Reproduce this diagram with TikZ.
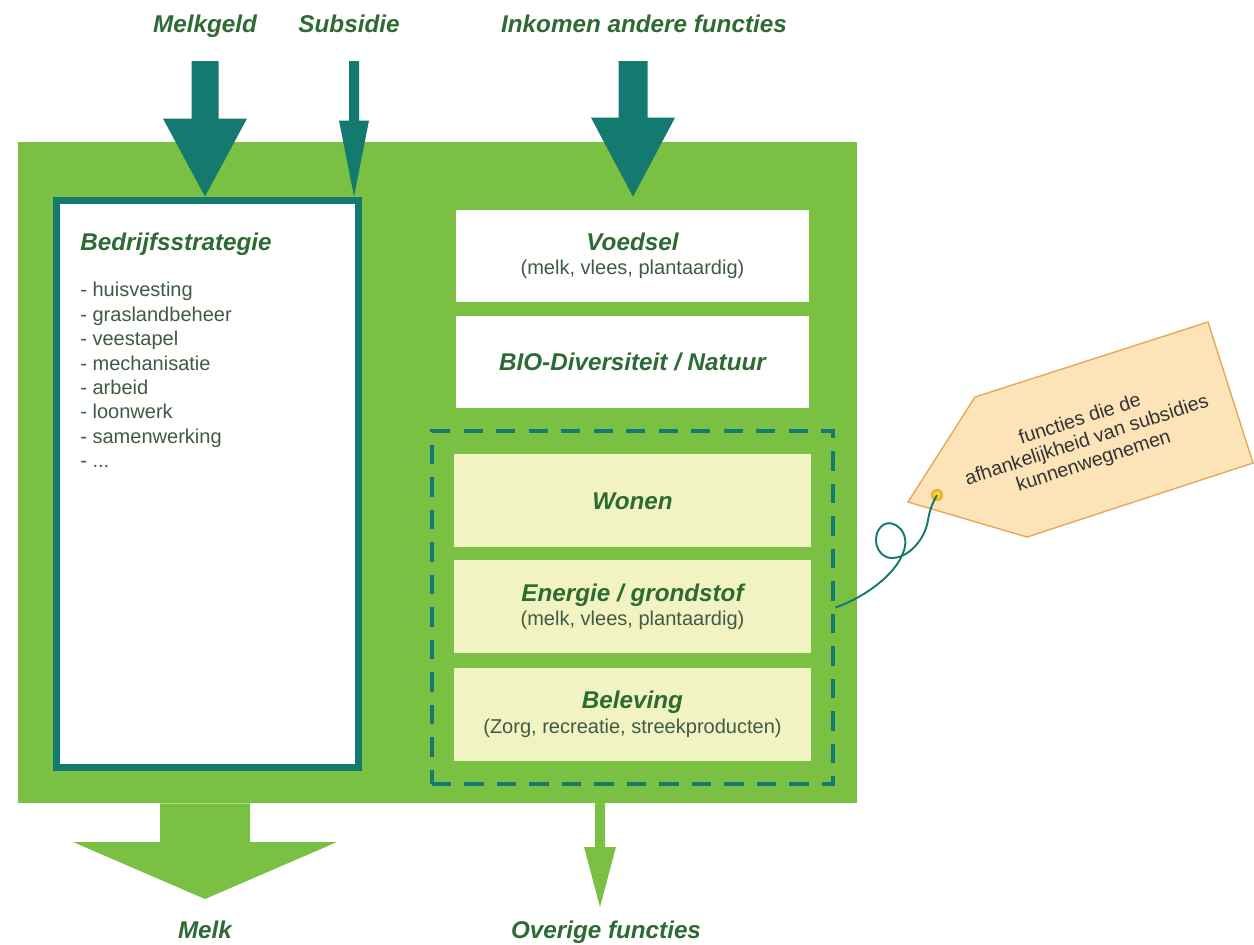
\documentclass[tikz,border=0pt]{standalone}
\usepackage{fontspec}
\setmainfont{Liberation Sans}
\usetikzlibrary{positioning,fit,calc}
\definecolor{farmgreen}{HTML}{7AC143}
\definecolor{flowteal}{HTML}{14796E}
\definecolor{textgreen}{HTML}{2D6A34}
\definecolor{bodygrey}{HTML}{3E5B43}
\definecolor{functieyellow}{HTML}{F2F3C3}
\definecolor{tagfill}{HTML}{FDE4B8}
\definecolor{tagline}{HTML}{E8A75C}
\definecolor{holeorange}{HTML}{F2B13E}
\newcommand*{\kop}{\fontsize{13.8}{16}\selectfont\bfseries\itshape\color{textgreen}}
\newcommand*{\onder}{\fontsize{11.4}{13.9}\selectfont\color{bodygrey}}
% #1 colour, #2 from, #3 tip, #4 half shaft, #5 half head, #6 head length
\newcommand*{\blokpijl}[6]{%
  \fill[#1] ($(#2)+(-#4,0)$) -- ($(#2)+(#4,0)$) -- ($(#3)+(#4,-#6)$) -- ($(#3)+(#5,-#6)$)
    -- (#3) -- ($(#3)+(-#5,-#6)$) -- ($(#3)+(-#4,-#6)$) -- cycle;}

\begin{document}
\begin{tikzpicture}[x=0.02cm, y=-0.02cm,
    farm_block/.style ={rectangle, fill=farmgreen, inner sep=0,
      minimum width=16.78cm, minimum height=13.22cm},
    block_strat/.style ={rectangle, draw=flowteal, line width=4pt, fill=white,
      minimum width=6.06cm, minimum height=11.36cm},
    block_white/.style ={rectangle, fill=white, inner sep=0, align=center,
      font=\onder, minimum width=7.06cm, minimum height=1.84cm},
    block_yellow/.style ={rectangle, fill=functieyellow, inner sep=0, align=center,
      font=\onder, minimum width=7.14cm, minimum height=1.86cm},
    block_dashed/.style ={rectangle, draw=flowteal, line width=2.3pt,
      dash pattern=on 11pt off 7.5pt, inner xsep=0.44cm, inner ysep=0.46cm},
    label_top/.style ={font=\kop, inner sep=0, anchor=base},
    string/.style ={draw=flowteal, line width=1.1pt}]
    \useasboundingbox (0,0) rectangle (1254,944);
    % farm
    \node [farm_block] (farm) at (437.5,472.5) {};
    % left column
    \node [block_strat] (strat) at (207.5,484) {};
    \node [label_top, anchor=base west] (strat_title) at (80,250) {Bedrijfsstrategie};
    \node [anchor=north west, inner sep=0, align=left, font=\onder] (strat_list) at (80,282) {%
      - huisvesting\\
      - graslandbeheer\\
      - veestapel\\
      - mechanisatie\\
      - arbeid\\
      - loonwerk\\
      - samenwerking\\
      - ...};
    % right column
    \node [block_white] (voedsel) at (632.5,256) {{\kop Voedsel}\\(melk, vlees, plantaardig)};
    \node [block_white, below=0.26cm of voedsel] (bio) {{\kop BIO-Diversiteit / Natuur}};
    \node [block_yellow, below=0.92cm of bio] (wonen) {{\kop Wonen}};
    \node [block_yellow, below=0.24cm of wonen] (energie) {{\kop Energie / grondstof}\\(melk, vlees, plantaardig)};
    \node [block_yellow, below=0.28cm of energie] (beleving) {{\kop Beleving}\\(Zorg, recreatie, streekproducten)};
    \node [block_dashed, fit=(wonen)(beleving)] (subsidievrij) {};
    % labels
    \node [label_top] (melkgeld) at (205,32) {Melkgeld};
    \node [label_top] (subsidie) at (349,32) {Subsidie};
    \node [label_top] (inkomen) at (644,32) {Inkomen andere functies};
    \node [label_top] (melk) at (205,938) {Melk};
    \node [label_top] (overige) at (606,938) {Overige functies};
    % arrows in
    \coordinate (melkgeld_in) at (205,61);
    \coordinate (subsidie_in) at (354,61);
    \coordinate (inkomen_in) at (633,61);
    \coordinate (inkomen_tip) at ($(inkomen_in |- voedsel.north)+(0,-13)$);
    \blokpijl{flowteal}{melkgeld_in}{melkgeld_in |- strat.north}{13.5}{42}{78}
    \blokpijl{flowteal}{subsidie_in}{subsidie_in |- strat.north}{5}{15}{76}
    \blokpijl{flowteal}{inkomen_in}{inkomen_tip}{14.5}{42}{79}
    % arrows out
    \coordinate (melk_out) at (melk.north |- farm.south);
    \coordinate (melk_tip) at (205,899);
    \coordinate (overige_out) at (600,803);
    \coordinate (overige_tip) at (600,907);
    \blokpijl{farmgreen}{melk_out}{melk_tip}{45}{132}{57}
    \blokpijl{farmgreen}{overige_out}{overige_tip}{5}{16}{60}
    % tag
    \coordinate (tag_hole) at (937,495);
    \filldraw [fill=tagfill, draw=tagline, line width=0.8pt]
      (908,502) -- (975,397) -- (1208,322) -- (1253,463) -- (1027,537) -- cycle;
    \fill [holeorange] (tag_hole) circle (3.6pt);
    \fill [holeorange!40!yellow] (tag_hole) circle (1.8pt);
    \node [rotate=18, align=center, font=\fontsize{11.2}{12.5}\selectfont, text=black!80] (tag_text) at (1087,441)
      {functies die de\\afhankelijkheid van subsidies\\kunnenwegnemen};
    \path [string] (subsidievrij.east) .. controls (865,597) and (895,575) .. (903,553)
      .. controls (912,532) and (893,518) .. (883,525)
      .. controls (870,535) and (876,558) .. (892,558)
      .. controls (908,558) and (925,540) .. (928,520)
      .. controls (930,508) and (934,500) .. (tag_hole);
\end{tikzpicture}
\end{document}
